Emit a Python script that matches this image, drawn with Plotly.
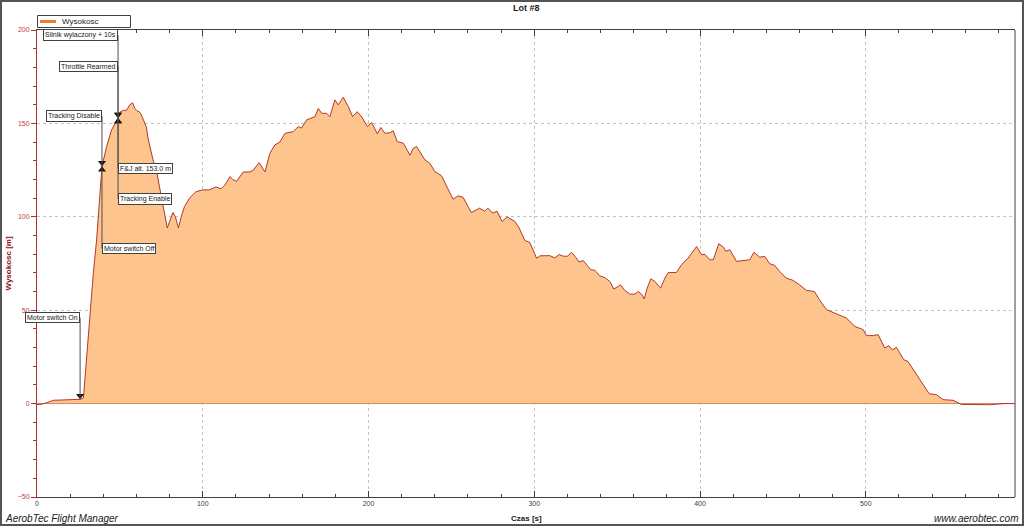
import numpy as np
import plotly.graph_objects as go

# ---------------- data ----------------
czas = [0, 3, 6, 8, 10, 14, 18, 22, 26, 28, 30, 32, 34, 36, 38, 39.2, 40, 42, 45, 47, 49, 50, 52, 54, 56, 57.7,
        59, 60, 62, 63, 65, 66, 67, 68, 70, 72, 74, 76, 78.6, 80, 82, 83.5, 85.3, 87.3, 89, 92, 96, 100, 104,
        108, 111, 113.4, 116.4, 118, 120.4, 124.4, 128.5, 130.5, 134, 137.5, 140.5, 143.5, 146.5, 149.6,
        154.6, 157.6, 159.6, 162.7, 165.7, 167.7, 169.7, 171.7, 174.7, 176.7, 179.7, 181.7, 184.7, 187.8,
        190.4, 193.2, 195.8, 199.4, 201.9, 205.3, 207.4, 209.9, 212.9, 214.9, 217.3, 221, 225, 227, 229,
        234, 237, 240, 244, 247, 251, 254, 257, 262, 267, 270, 272, 275, 277.5, 280.6, 283.6, 288.3, 290.9,
        294.3, 297.3, 301.4, 303.4, 309.4, 312.4, 315, 317.5, 320, 322.5, 324.5, 327, 329.5, 331.5, 334,
        336.6, 339.5, 342.6, 345.6, 348, 350, 352, 354.6, 357.7, 360.7, 362.7, 364.7, 366.3, 368.1, 370.3,
        372.7, 376.2, 378.8, 380.8, 385.8, 388.8, 392.8, 395.8, 397.9, 400.9, 402.9, 405.9, 408, 411.3, 414,
        415.5, 418, 422, 426, 430, 432.5, 436, 439, 442, 445, 448, 452, 456, 460, 464.2, 469, 472, 476.3,
        480.3, 484.3, 488.3, 493.4, 498.4, 500.4, 504.5, 507.4, 511.4, 513.9, 516, 518.5, 522.9, 525.4,
        528.5, 532.5, 538.2, 542.6, 546.6, 552.6, 555.6, 557.7, 564.6, 574.5, 583.5, 589]
wysokosc = [-0.5, -0.3, 0.5, 1.3, 1.8, 1.9, 2.0, 2.1, 2.3, 3.0, 25, 50, 70, 88, 116, 127, 130, 137.6, 146.5, 150,
            153, 156, 157, 157, 160, 161, 158, 157, 156, 154.5, 150, 148, 142, 137.6, 130.5, 125, 116, 107, 94,
            97.5, 102.3, 100, 94, 101, 105.5, 110, 113.5, 114.4, 114.4, 116, 115, 117, 121.5, 120, 119, 124,
            124, 125, 129, 124, 134, 138.5, 140, 144.7, 145.6, 148.3, 147.5, 151.9, 152.8, 153.6, 158, 155.4,
            155.4, 153.6, 162.6, 159.9, 164, 159, 153.6, 156.3, 153.6, 148.3, 150.5, 144.4, 147.8, 144.7, 145,
            146, 140.3, 139.4, 133, 136.7, 137.6, 130.5, 128.7, 124.2, 122, 116.2, 109.4, 111.2, 110.5, 102.3,
            104.6, 103, 104.6, 102, 103, 97.5, 100, 97.5, 94, 87.3, 86.3, 77.8, 79.1, 79.2, 78, 79.8, 78.9,
            78.9, 81, 78.9, 75.8, 76.6, 74.3, 71.7, 71.3, 68.4, 67.4, 65.4, 61.3, 62.3, 63.6, 60.6, 58.6,
            58.6, 60, 58.6, 56, 61.8, 66.8, 65.4, 61.8, 67.2, 70.2, 70.2, 74.3, 77.9, 81.4, 84.1, 79.7, 79.9,
            77, 77, 85.6, 83.8, 81.5, 82.4, 76.1, 76.6, 77, 81, 78.4, 78.8, 74.9, 74, 70.8, 67.2, 66, 63.6,
            60.6, 60, 55.6, 50.3, 48.8, 47.6, 45.8, 41.3, 39.6, 36.4, 36.4, 36.9, 29.8, 31, 28.7, 30.1, 23.5,
            22.6, 18.5, 13.2, 5.3, 4.8, 2.1, 1.8, 0.7, -0.5, -0.5, -0.6, 0, 0]

series_name = "Wysokosc"

# events: name, time [s], side ("above" = label above point, "below" = label below point)
event_names = ["Motor switch On", "Tracking Disable", "Motor switch Off", "Silnik wylaczony + 10s",
               "Throttle Rearmed", "F&J alt. 153.0 m", "Tracking Enable"]
event_times = [26, 39.2, 39.2, 48.9, 48.9, 48.9, 48.9]
event_sides = ["above", "above", "below", "above", "above", "below", "below"]

# ---------------- layout constants ----------------
W, H = 1024, 526
ML, MR, MT, MB = 37, 9, 30, 29
PW, PH = W - ML - MR, H - MT - MB
Y0, Y1 = -50, 200
X0, X1 = 0, 590
px_y = (Y1 - Y0) / PH  # data units per pixel (y)


def px_to_paper_x(px):
    return (px - ML) / PW


def px_to_paper_y(py):
    return 1 - (py - MT) / PH


# label placement (data y of label centre) and anchor
label_y = [46, 154, 83, 197.3, 180.7, 126, 109.6]
label_anchor = ["right", "right", "left", "right", "right", "left", "left"]

FONT = "Liberation Sans, Arial, sans-serif"
LINE_COLOR = "#B03A28"
FILL_COLOR = "#FDC48E"
LEGEND_COLOR = "#F07A30"

fig = go.Figure()

fig.add_trace(go.Scatter(
    x=czas, y=wysokosc, mode="lines", fill="tozeroy", name=series_name,
    fillcolor=FILL_COLOR, line=dict(color=LINE_COLOR, width=1),
    showlegend=False, hoverinfo="x+y"))

shapes = []
annotations = []
ev_y = np.interp(event_times, czas, wysokosc)
off = 3.5 * px_y
down_x, down_y, up_x, up_y = [], [], [], []
for name, t, side, ly, anc, yv in zip(event_names, event_times, event_sides, label_y, label_anchor, ev_y):
    shapes.append(dict(type="line", xref="x", yref="y", x0=t, x1=t, y0=ly, y1=yv,
                       line=dict(color="#505050", width=1), layer="above"))
    if side == "above":
        down_x.append(t); down_y.append(yv + off)
    else:
        up_x.append(t); up_y.append(yv - off)
    annotations.append(dict(x=t, y=ly, xref="x", yref="y", text=name, showarrow=False,
                            xanchor=anc, yanchor="middle",
                            font=dict(family=FONT, size=7, color="#202020"),
                            bgcolor="white", bordercolor="#404040", borderwidth=1, borderpad=1))

fig.add_trace(go.Scatter(x=down_x, y=down_y, mode="markers", showlegend=False, hoverinfo="skip",
                         marker=dict(symbol="triangle-down", size=7, color="#101010")))
fig.add_trace(go.Scatter(x=up_x, y=up_y, mode="markers", showlegend=False, hoverinfo="skip",
                         marker=dict(symbol="triangle-up", size=7, color="#101010")))

# right border of plot area
shapes.append(dict(type="line", xref="paper", yref="paper", x0=1, x1=1, y0=0, y1=1,
                   line=dict(color="#404040", width=1)))
# outer frame
shapes.append(dict(type="rect", xref="paper", yref="paper",
                   x0=px_to_paper_x(1), x1=px_to_paper_x(W - 1),
                   y0=px_to_paper_y(H - 1), y1=px_to_paper_y(1),
                   line=dict(color="#555555", width=2)))
# legend box (manual, compact like the original)
shapes.append(dict(type="rect", xref="paper", yref="paper",
                   x0=px_to_paper_x(37.5), x1=px_to_paper_x(130.5),
                   y0=px_to_paper_y(27.5), y1=px_to_paper_y(15.5),
                   line=dict(color="#404040", width=1), fillcolor="white"))
shapes.append(dict(type="line", xref="paper", yref="paper",
                   x0=px_to_paper_x(40), x1=px_to_paper_x(56),
                   y0=px_to_paper_y(21.5), y1=px_to_paper_y(21.5),
                   line=dict(color=LEGEND_COLOR, width=3)))

annotations += [
    dict(text=series_name, x=px_to_paper_x(60), y=px_to_paper_y(21.5), xref="paper", yref="paper",
         showarrow=False, xanchor="left", yanchor="middle",
         font=dict(family=FONT, size=8, color="#202020")),
    dict(text="<b>Lot #8</b>", x=0.5, y=px_to_paper_y(8), xref="paper", yref="paper",
         showarrow=False, yanchor="middle", font=dict(family=FONT, size=9, color="#202020")),
    dict(text="<i>AerobTec Flight Manager</i>", x=px_to_paper_x(3), y=px_to_paper_y(518),
         xref="paper", yref="paper", showarrow=False, xanchor="left", yanchor="middle",
         font=dict(family=FONT, size=10, color="#202020")),
    dict(text="<i>www.aerobtec.com</i>", x=px_to_paper_x(W - 4), y=px_to_paper_y(518),
         xref="paper", yref="paper", showarrow=False, xanchor="right", yanchor="middle",
         font=dict(family=FONT, size=10, color="#202020")),
    dict(text="<b>Czas [s]</b>", x=0.5, y=px_to_paper_y(518), xref="paper", yref="paper",
         showarrow=False, yanchor="middle", font=dict(family=FONT, size=8, color="#202020")),
    dict(text="<b>Wysokosc [m]</b>", x=px_to_paper_x(8), y=0.5, xref="paper", yref="paper",
         showarrow=False, textangle=-90, xanchor="center", yanchor="middle",
         font=dict(family=FONT, size=8, color="#8B1010")),
]

fig.update_layout(
    width=W, height=H, margin=dict(l=ML, r=MR, t=MT, b=MB, pad=0, autoexpand=False),
    paper_bgcolor="white", plot_bgcolor="white",
    font=dict(family=FONT, size=7, color="#303030"),
    shapes=shapes, annotations=annotations,
    showlegend=False,
)

fig.update_xaxes(
    range=[X0, X1], dtick=100, tick0=0, showgrid=True, gridcolor="#C4C4C4", griddash="dot",
    gridwidth=1, zeroline=False, showline=True, linecolor="#404040", linewidth=1, mirror="ticks",
    ticks="inside", ticklen=6, tickcolor="#404040", automargin=False,
    minor=dict(dtick=20, ticks="inside", ticklen=3, tickcolor="#404040", showgrid=False),
    tickfont=dict(family=FONT, size=7, color="#404040"),
)
fig.update_yaxes(
    range=[Y0, Y1], dtick=50, tick0=0, showgrid=True, gridcolor="#C4C4C4", griddash="dot",
    gridwidth=1, zeroline=True, zerolinecolor="#C04A30", zerolinewidth=1,
    showline=True, linecolor="#B03030", linewidth=1, mirror=False,
    ticks="outside", ticklen=5, tickcolor="#B03030", automargin=False,
    minor=dict(dtick=10, ticks="outside", ticklen=3, tickcolor="#B03030", showgrid=False),
    tickfont=dict(family=FONT, size=7, color="#C04040"),
)

fig.write_html("out.html", config={"displayModeBar": False},
               post_script="document.body.style.margin='0px';document.body.style.overflow='hidden';")
